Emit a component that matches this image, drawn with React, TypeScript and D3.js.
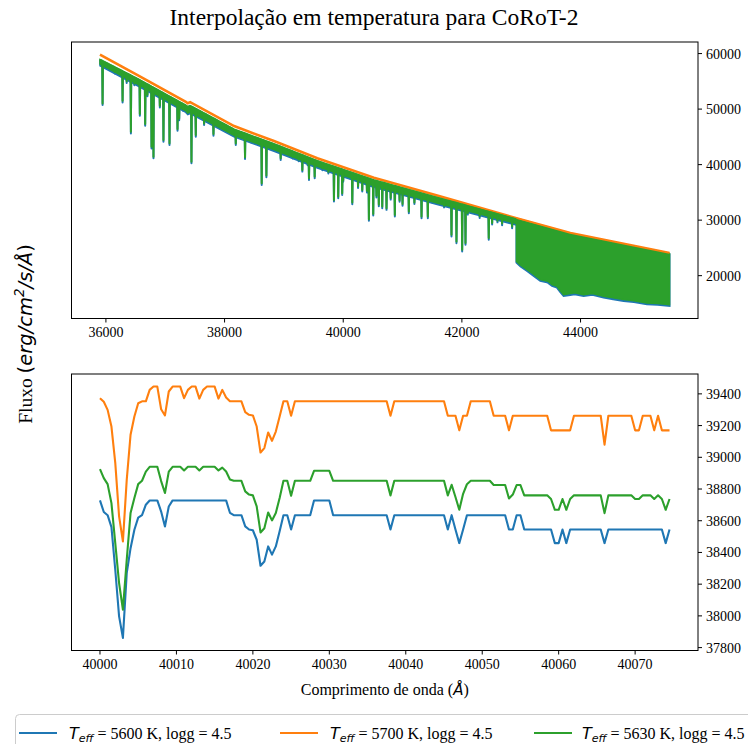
import React from 'react';
import * as d3 from 'd3';

const W = 748;
const H = 744;

// ---------- Bottom panel (zoom 40000–40074.5 Å, 0.5 Å grid) ----------
const zoomWl = d3.range(40000, 40074.75, 0.5);
const fluxBlue = [
  38728, 38655, 38635, 38560, 38291, 37997, 37861, 38270, 38427, 38543,
  38620, 38635, 38701, 38728, 38728, 38728, 38658, 38564, 38690, 38728,
  38728, 38728, 38728, 38728, 38728, 38728, 38728, 38728, 38728, 38728,
  38728, 38728, 38728, 38728, 38650, 38635, 38635, 38635, 38564, 38545,
  38540, 38480, 38316, 38343, 38438, 38386, 38438, 38533, 38635, 38635,
  38545, 38635, 38635, 38635, 38635, 38635, 38728, 38728, 38728, 38728,
  38728, 38635, 38635, 38635, 38635, 38635, 38635, 38635, 38635, 38635,
  38635, 38635, 38635, 38635, 38635, 38635, 38545, 38635, 38635, 38635,
  38635, 38635, 38635, 38635, 38635, 38635, 38635, 38635, 38635, 38635,
  38635, 38545, 38635, 38545, 38459, 38545, 38635, 38635, 38635, 38635,
  38635, 38635, 38635, 38635, 38635, 38635, 38635, 38545, 38545, 38635,
  38635, 38545, 38545, 38545, 38545, 38545, 38545, 38545, 38545, 38459,
  38459, 38545, 38459, 38545, 38545, 38545, 38545, 38545, 38545, 38545,
  38545, 38545, 38459, 38545, 38545, 38545, 38545, 38545, 38545, 38545,
  38545, 38545, 38545, 38545, 38545, 38545, 38545, 38545, 38459, 38545,
];
const fluxOrange = [
  39373, 39350, 39299, 39194, 38965, 38627, 38470, 38858, 39142, 39257,
  39341, 39353, 39353, 39425, 39446, 39446, 39303, 39264, 39415, 39446,
  39446, 39446, 39373, 39425, 39446, 39446, 39370, 39425, 39446, 39446,
  39446, 39370, 39425, 39377, 39353, 39353, 39353, 39353, 39285, 39268,
  39264, 39194, 39030, 39058, 39156, 39104, 39162, 39257, 39353, 39353,
  39262, 39353, 39353, 39353, 39353, 39353, 39353, 39353, 39353, 39353,
  39353, 39353, 39353, 39353, 39353, 39353, 39353, 39353, 39353, 39353,
  39353, 39353, 39353, 39353, 39353, 39353, 39262, 39353, 39353, 39353,
  39353, 39353, 39353, 39353, 39353, 39353, 39353, 39353, 39353, 39353,
  39353, 39262, 39262, 39262, 39170, 39262, 39262, 39353, 39353, 39353,
  39353, 39353, 39353, 39262, 39262, 39262, 39262, 39170, 39262, 39262,
  39262, 39262, 39262, 39262, 39262, 39262, 39262, 39262, 39170, 39170,
  39170, 39170, 39170, 39170, 39262, 39262, 39262, 39262, 39262, 39262,
  39262, 39262, 39080, 39262, 39262, 39262, 39262, 39262, 39262, 39262,
  39170, 39170, 39262, 39262, 39262, 39170, 39262, 39170, 39170, 39170,
];
const fluxGreen = [
  38925, 38869, 38831, 38711, 38459, 38207, 38039, 38354, 38649, 38743,
  38831, 38852, 38910, 38940, 38940, 38940, 38850, 38775, 38910, 38940,
  38940, 38940, 38917, 38940, 38940, 38940, 38917, 38940, 38940, 38940,
  38940, 38917, 38935, 38910, 38860, 38852, 38852, 38852, 38785, 38765,
  38760, 38690, 38526, 38553, 38652, 38602, 38649, 38743, 38852, 38852,
  38757, 38852, 38852, 38852, 38852, 38852, 38915, 38915, 38915, 38915,
  38915, 38852, 38852, 38852, 38852, 38852, 38852, 38852, 38852, 38852,
  38852, 38852, 38852, 38852, 38852, 38852, 38760, 38852, 38852, 38852,
  38852, 38852, 38852, 38852, 38852, 38852, 38852, 38852, 38852, 38852,
  38852, 38760, 38827, 38750, 38669, 38770, 38830, 38852, 38852, 38852,
  38852, 38852, 38852, 38825, 38825, 38825, 38825, 38740, 38765, 38825,
  38825, 38760, 38760, 38760, 38760, 38760, 38760, 38760, 38737, 38669,
  38669, 38737, 38669, 38737, 38760, 38760, 38760, 38760, 38760, 38760,
  38760, 38760, 38648, 38760, 38760, 38760, 38760, 38760, 38760, 38760,
  38737, 38737, 38760, 38760, 38760, 38737, 38760, 38737, 38669, 38737,
];

// ---------- Top panel (full spectrum) ----------
// orange (5700 K) continuum knots
const orangeWl = [35900, 36533, 37347, 37380, 37420, 38160, 38833, 39564, 40517, 41584, 42920, 43828, 45500];
const orangeFlux = [59820, 56100, 51306, 51050, 51250, 46940, 44245, 41140, 37650, 34420, 30360, 27670, 24070];
// green (5630 K) pseudo-continuum knots (same wavelengths as orange)
const greenContFlux = [58920, 55450, 50650, 50400, 50600, 46350, 43700, 40650, 37200, 34050, 30150, 27550, 23950];
// lower edge of the band of weak lines (green)
const greenBandFlux = [58100, 54500, 49700, 49300, 49500, 45300, 42700, 39700, 36200, 33100, 29400, 27000, 23500];
// blue (5600 K) pseudo-continuum knots and weak-line band lower edge
const blueContFlux = [58750, 55300, 50500, 50250, 50450, 46200, 43550, 40500, 37050, 33900, 30000, 27450, 23850];
const blueBandFlux = [57800, 54200, 49400, 49000, 49200, 45000, 42400, 39400, 35900, 32800, 29100, 26800, 23300];
// strong absorption line centres and the green line bottoms
const lineWl = [
  35944, 36050, 36150, 36281, 36350, 36421, 36480, 36572, 36662, 36700, 36769, 36802, 36909, 36970,
  37072, 37100, 37207, 37235, 37300, 37442, 37515, 37560, 37655, 37700, 37813, 37900, 38050, 38189,
  38280, 38345, 38450, 38550, 38626, 38705, 38800, 38946, 39000, 39150, 39250, 39311, 39400, 39423,
  39519, 39650, 39750, 39844, 39916, 39983, 40000, 40153, 40250, 40321, 40400, 40433, 40506, 40560,
  40600, 40658, 40730, 40800, 40870, 40950, 41000, 41106, 41200, 41320, 41426, 41500, 41700, 41825,
  41909, 42005, 42061, 42100, 42300, 42453, 42510, 42600, 42678, 42750, 42847,
];
const lineMin = [
  51020, 57600, 56700, 51490, 55000, 45920, 54600, 49100, 47300, 52600, 43220, 41430, 50590, 44430,
  43830, 51700, 46400, 48300, 50000, 40530, 45320, 49000, 47420, 48500, 45500, 47200, 46300, 43830,
  45000, 41320, 44300, 44200, 36650, 38020, 43100, 41140, 42300, 41400, 40900, 39040, 40200, 37550,
  37850, 39300, 38700, 33650, 34250, 34850, 37200, 33170, 36100, 35450, 35300, 30180, 31130, 34400,
  32800, 32450, 32150, 34000, 30950, 33600, 32900, 31550, 33200, 30650, 30650, 33500, 32600, 27360,
  26160, 24670, 25870, 31300, 30700, 26770, 29500, 29900, 29400, 30000, 28850,
];
// dense region lower envelope
const envWl = [42920, 42990, 43099, 43200, 43322, 43450, 43520, 43603, 43660, 43715, 43900, 44052, 44200, 44389, 44550, 44726, 44900, 45119, 45300, 45500];
const envFlux = [22570, 21900, 21070, 20300, 19280, 19000, 18400, 18080, 17300, 16580, 16900, 16580, 16800, 16280, 16000, 15690, 15500, 15090, 15000, 14790];
const blueEnvFlux = [22350, 21650, 20850, 20050, 19050, 18750, 18150, 17850, 17050, 16350, 16650, 16350, 16550, 16050, 15750, 15450, 15250, 14850, 14750, 14550];

// ---------- ticks ----------
const topXTicks = [36000, 38000, 40000, 42000, 44000];
const topYTicks = [20000, 30000, 40000, 50000, 60000];
const botXTicks = [40000, 40010, 40020, 40030, 40040, 40050, 40060, 40070];
const botYTicks = [37800, 38000, 38200, 38400, 38600, 38800, 39000, 39200, 39400];

const C_BLUE = '#1f77b4';
const C_ORANGE = '#ff7f0e';
const C_GREEN = '#2ca02c';
const SERIF = '"Liberation Serif", "Times New Roman", serif';
const SANS = '"DejaVu Sans", sans-serif';

const L = 71.5, R = 698;
const T1 = 42, B1 = 318.5;
const T2 = 374, B2 = 650.5;

function margin(lo: number, hi: number): [number, number] {
  const r = hi - lo;
  return [lo - 0.05 * r, hi + 0.05 * r];
}

export default function App() {
  const xT = d3.scaleLinear().domain(margin(35900, 45500)).range([L, R]);
  const yT = d3.scaleLinear().domain(margin(d3.min(blueEnvFlux)!, d3.max(orangeFlux)!)).range([B1, T1]);
  const xB = d3.scaleLinear().domain(margin(40000, zoomWl[zoomWl.length - 1])).range([L, R]);
  const allB = [...fluxBlue, ...fluxOrange, ...fluxGreen];
  const yB = d3.scaleLinear().domain(margin(d3.min(allB)!, d3.max(allB)!)).range([B2, T2]);

  const greenCont = d3.scaleLinear().domain(orangeWl).range(greenContFlux);
  const blueCont = d3.scaleLinear().domain(orangeWl).range(blueContFlux);
  const greenBand = d3.scaleLinear().domain(orangeWl).range(greenBandFlux);
  const blueBand = d3.scaleLinear().domain(orangeWl).range(blueBandFlux);
  const greenEnv = d3.scaleLinear().domain(envWl).range(envFlux);
  const blueEnv = d3.scaleLinear().domain(envWl).range(blueEnvFlux);

  const cut = envWl[0];
  const spectrum = (cont: d3.ScaleLinear<number, number>, depthShift: number) => {
    const pts: [number, number][] = [];
    orangeWl.forEach((w) => { if (w <= cut) pts.push([w, cont(w)]); });
    lineWl.forEach((w, i) => {
      pts.push([w - 6, cont(w - 6)]);
      pts.push([w, lineMin[i] - depthShift]);
      pts.push([w + 6, cont(w + 6)]);
    });
    pts.sort((a, b) => a[0] - b[0]);
    return pts.filter((p) => p[0] <= cut);
  };
  const lineT = d3.line<[number, number]>().x((d) => xT(d[0])).y((d) => yT(d[1]));
  const denseWl = Array.from(new Set([...envWl, ...orangeWl.filter((w) => w >= cut)])).sort((a, b) => a - b);
  const bandWl = orangeWl.filter((w) => w <= cut);
  const areaG = d3.area<number>().x((w) => xT(w)).y0((w) => yT(greenEnv(w))).y1((w) => yT(greenCont(w)));
  const areaB = d3.area<number>().x((w) => xT(w)).y0((w) => yT(blueEnv(w))).y1((w) => yT(blueCont(w)));
  const bandG = d3.area<number>().x((w) => xT(w)).y0((w) => yT(greenBand(w))).y1((w) => yT(greenCont(w)));
  const bandB = d3.area<number>().x((w) => xT(w)).y0((w) => yT(blueBand(w))).y1((w) => yT(blueCont(w)));

  const greenPts = spectrum(greenCont, 0);
  const bluePts = spectrum(blueCont, 300);
  const orangePts: [number, number][] = orangeWl.map((w, i) => [w, orangeFlux[i]]);

  const lineB = (vals: number[]) =>
    d3.line<number>().x((_, i) => xB(zoomWl[i])).y((v) => yB(v))(vals) || '';

  const tickFont = { fontFamily: SERIF, fontSize: 14, fill: '#000' } as const;

  const legendItems = [
    { c: C_BLUE, t: '5600', lx: 19, tx: 69 },
    { c: C_ORANGE, t: '5700', lx: 280, tx: 330 },
    { c: C_GREEN, t: '5630', lx: 534, tx: 582 },
  ];

  return (
    <svg width={W} height={H} style={{ position: 'absolute', left: 0, top: 0, background: '#fff' }}>
      <rect x={0} y={0} width={W} height={H} fill="#fff" />
      <text x={374} y={25} textAnchor="middle" fontFamily={SERIF} fontSize={23.5}>
        Interpolação em temperatura para CoRoT-2
      </text>

      <defs>
        <clipPath id="c1"><rect x={L} y={T1} width={R - L} height={B1 - T1} /></clipPath>
        <clipPath id="c2"><rect x={L} y={T2} width={R - L} height={B2 - T2} /></clipPath>
      </defs>
      {/* top panel */}
      <g clipPath="url(#c1)">
        <path d={bandB(bandWl) || ''} fill={C_BLUE} stroke={C_BLUE} strokeWidth={1.5} />
        <path d={lineT(bluePts) || ''} fill="none" stroke={C_BLUE} strokeWidth={2} strokeLinejoin="round" />
        <path d={areaB(denseWl) || ''} fill={C_BLUE} stroke={C_BLUE} strokeWidth={2} />
        <path d={lineT(orangePts) || ''} fill="none" stroke={C_ORANGE} strokeWidth={2.6} />
        <path d={bandG(bandWl) || ''} fill={C_GREEN} stroke={C_GREEN} strokeWidth={1.5} />
        <path d={lineT(greenPts) || ''} fill="none" stroke={C_GREEN} strokeWidth={2} strokeLinejoin="round" />
        <path d={areaG(denseWl) || ''} fill={C_GREEN} stroke={C_GREEN} strokeWidth={1.5} />
        <path d={lineT(orangePts.filter((p) => p[0] >= cut - 50)) || ''} fill="none" stroke={C_ORANGE} strokeWidth={1.4} />
      </g>
      <rect x={L} y={T1} width={R - L} height={B1 - T1} fill="none" stroke="#000" strokeWidth={1} />
      {topXTicks.map((t) => (
        <g key={t}>
          <line x1={xT(t)} x2={xT(t)} y1={B1} y2={B1 + 4} stroke="#000" />
          <text x={xT(t)} y={B1 + 18} textAnchor="middle" {...tickFont}>{t}</text>
        </g>
      ))}
      {topYTicks.map((t) => (
        <g key={t}>
          <line x1={R} x2={R + 4} y1={yT(t)} y2={yT(t)} stroke="#000" />
          <text x={R + 8} y={yT(t) + 5} {...tickFont}>{t}</text>
        </g>
      ))}

      {/* bottom panel */}
      <g clipPath="url(#c2)" fill="none" strokeWidth={2.1} strokeLinejoin="round">
        <path d={lineB(fluxBlue)} stroke={C_BLUE} />
        <path d={lineB(fluxOrange)} stroke={C_ORANGE} />
        <path d={lineB(fluxGreen)} stroke={C_GREEN} />
      </g>
      <rect x={L} y={T2} width={R - L} height={B2 - T2} fill="none" stroke="#000" strokeWidth={1} />
      {botXTicks.map((t) => (
        <g key={t}>
          <line x1={xB(t)} x2={xB(t)} y1={B2} y2={B2 + 4} stroke="#000" />
          <text x={xB(t)} y={B2 + 18} textAnchor="middle" {...tickFont}>{t}</text>
        </g>
      ))}
      {botYTicks.map((t) => (
        <g key={t}>
          <line x1={R} x2={R + 4} y1={yB(t)} y2={yB(t)} stroke="#000" />
          <text x={R + 8} y={yB(t) + 5} {...tickFont}>{t}</text>
        </g>
      ))}

      {/* axis labels */}
      <text x={(L + R) / 2} y={695} textAnchor="middle" fontFamily={SERIF} fontSize={16}>
        Comprimento de onda (<tspan fontFamily={SANS} fontStyle="italic" fontSize={15}>Å</tspan>)
      </text>
      <text transform="translate(32,334) rotate(-90)" textAnchor="middle" fontFamily={SERIF} fontSize={19.5}>
        Fluxo <tspan fontFamily={SANS}>(</tspan>
        <tspan fontFamily={SANS} fontStyle="italic">erg/cm</tspan>
        <tspan fontFamily={SANS} fontStyle="italic" fontSize={13.5} dy={-8}>2</tspan>
        <tspan fontFamily={SANS} fontStyle="italic" dy={8}>/s/Å</tspan>
        <tspan fontFamily={SANS}>)</tspan>
      </text>

      {/* legend */}
      <rect x={15.5} y={714.5} width={760} height={50} rx={4} fill="#fff" fillOpacity={0.8} stroke="#ccc" />
      {legendItems.map((it) => (
        <g key={it.t}>
          <line x1={it.lx} x2={it.lx + 38} y1={733} y2={733} stroke={it.c} strokeWidth={2.1} />
          <text x={it.tx} y={739} fontFamily={SERIF} fontSize={16}>
            <tspan fontFamily={SANS} fontStyle="italic">T</tspan>
            <tspan fontFamily={SANS} fontStyle="italic" fontSize={11} dy={3}>eff</tspan>
            <tspan dy={-3}> = {it.t} K, logg = 4.5</tspan>
          </text>
        </g>
      ))}
    </svg>
  );
}
